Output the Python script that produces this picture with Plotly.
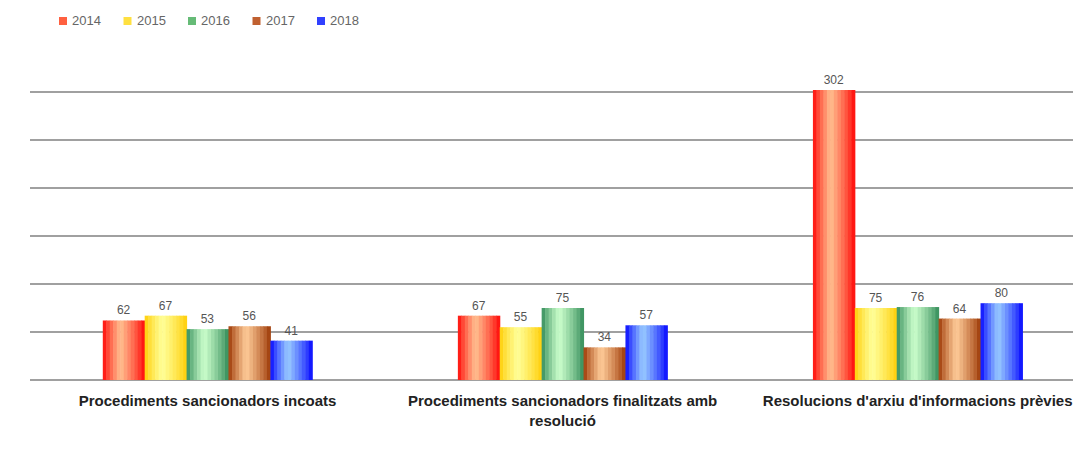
import plotly.graph_objects as go

categories = ["Procediments sancionadors incoats",
              "Procediments sancionadors finalitzats amb<br>resolució",
              "Resolucions d'arxiu d'informacions prèvies"]
years = ["2014", "2015", "2016", "2017", "2018"]
v2014 = [62, 67, 302]
v2015 = [67, 55, 75]
v2016 = [53, 75, 76]
v2017 = [56, 34, 64]
v2018 = [41, 57, 80]
series = [v2014, v2015, v2016, v2017, v2018]

# style: (edge colour, light centre colour)
edge_cols = [(255, 0, 0), (255, 204, 0), (45, 135, 85), (153, 51, 0), (0, 0, 255)]
light_cols = [(255, 192, 144), (255, 255, 153), (204, 255, 204), (255, 204, 153), (153, 204, 255)]
legend_cols = ["#ff6040", "#ffe040", "#66bb77", "#c06030", "#3040ff"]

N = 12
group_w = 0.59
bw = group_w / 5
sw = bw / N

def mix(a, b, t):
    return "rgb(%d,%d,%d)" % tuple(round(a[i] + (b[i] - a[i]) * t) for i in range(3))

fig = go.Figure()
xidx = list(range(len(categories)))
for j, (yr, vals) in enumerate(zip(years, series)):
    for k in range(N):
        s = (k + 0.5) / N
        t = s / 0.42 if s < 0.42 else (1 - s) / 0.58
        t = max(0.0, min(1.0, t)) ** 0.8
        off = -group_w / 2 + j * bw + k * sw
        fig.add_trace(go.Bar(
            x=xidx, y=vals, width=sw * 1.15, offset=off,
            marker=dict(color=mix(edge_cols[j], light_cols[j], t), line=dict(width=0)),
            name=yr, showlegend=False, hoverinfo="skip",
        ))
    # value labels
    fig.add_trace(go.Bar(
        x=xidx, y=vals, width=bw, offset=-group_w / 2 + j * bw,
        marker=dict(color="rgba(0,0,0,0)", line=dict(width=0)),
        text=[str(v) for v in vals], textposition="outside", constraintext="none",
        textfont=dict(family="Liberation Sans, Arial", size=12, color="#555555"),
        cliponaxis=False, showlegend=False, hoverinfo="skip", name=yr,
    ))

# the page has an 8px body margin; figure is sized/placed to compensate
W, H = 1073, 451
ML, MT, MB = 22, 72, 79
PW, PH = W - ML, H - MT - MB

# manual legend (small squares + labels) across the top-left (screen px)
leg_x0 = 59
leg_pitch = 64.5
leg_y = 21
for j, yr in enumerate(years):
    xs = leg_x0 + j * leg_pitch
    fig.add_shape(type="rect", xref="paper", yref="paper",
                  x0=(xs - 8 - ML) / PW, x1=(xs + 8 - 8 - ML) / PW,
                  y0=1 + (MT - (leg_y - 8) - 4) / PH, y1=1 + (MT - (leg_y - 8) + 4) / PH,
                  fillcolor=legend_cols[j], line=dict(width=0))
    fig.add_annotation(xref="paper", yref="paper", x=(xs + 11 - 8 - ML) / PW,
                       y=1 + (MT - (leg_y - 8)) / PH, xanchor="left", yanchor="middle",
                       text=yr, showarrow=False,
                       font=dict(family="Liberation Sans, Arial", size=13, color="#666666"))

fig.update_layout(
    width=W, height=H,
    barmode="overlay",
    paper_bgcolor="white", plot_bgcolor="white",
    margin=dict(l=ML, r=0, t=MT, b=MB, autoexpand=False),
    font=dict(family="Liberation Sans, Arial", color="#222222"),
    showlegend=False,
    xaxis=dict(range=[-0.5, 2.46], tickmode="array", tickvals=xidx, ticktext=categories,
               showgrid=False, zeroline=False, showline=False,
               ticks="outside", ticklen=7, tickcolor="rgba(0,0,0,0)", automargin=False,
               tickfont=dict(size=15, color="#222222", family="Liberation Sans, Arial",
                             weight="bold"),
               fixedrange=True),
    yaxis=dict(range=[0, 312.5], dtick=50, showgrid=True, gridcolor="#a0a0a0", gridwidth=2,
               showticklabels=False, zeroline=True, zerolinecolor="#a0a0a0", zerolinewidth=2,
               showline=False, ticks="", automargin=False, fixedrange=True),
)

fig.write_html("out.html")
